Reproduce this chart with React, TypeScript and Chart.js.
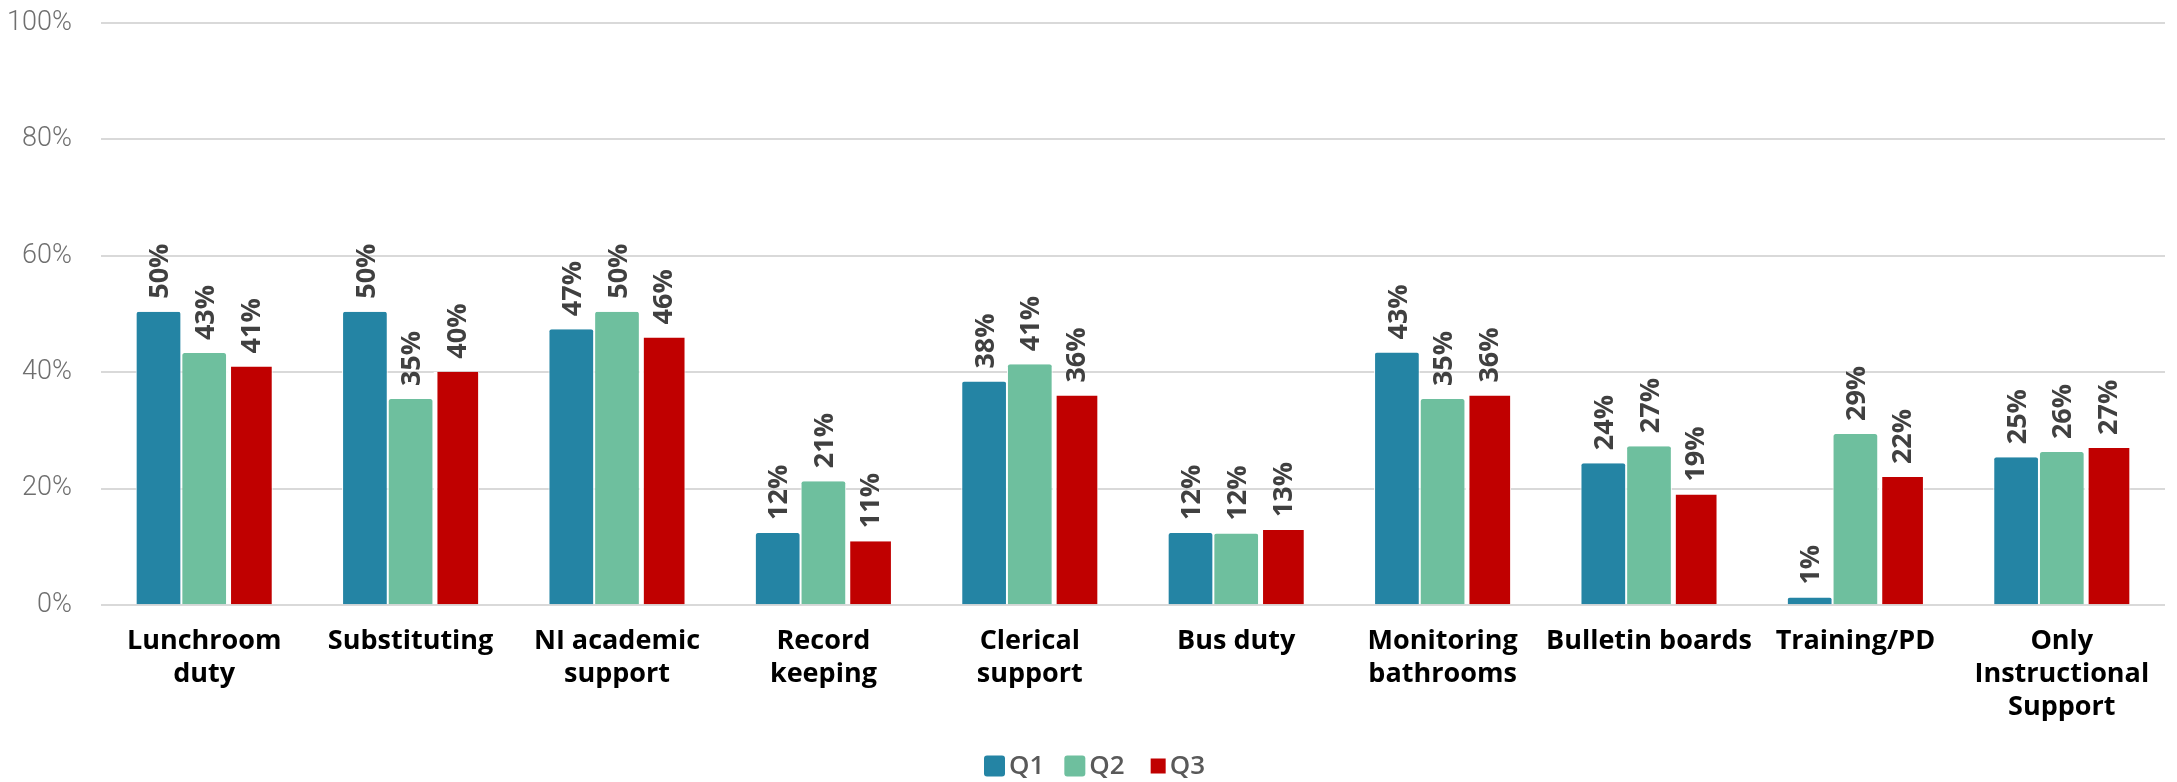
import React, { useEffect, useRef } from "react";
import { Chart, registerables } from "chart.js";

Chart.register(...registerables);

const categories: (string | string[])[] = [
  ["Lunchroom", "duty"],
  "Substituting",
  ["NI academic", "support"],
  ["Record", "keeping"],
  ["Clerical", "support"],
  "Bus duty",
  ["Monitoring", "bathrooms"],
  "Bulletin boards",
  "Training/PD",
  ["Only", "Instructional", "Support"],
];

const q1Values = [50.4, 50.4, 47.4, 12.4, 38.4, 12.4, 43.4, 24.4, 1.3, 25.4];
const q2Values = [43.3, 35.4, 50.4, 21.3, 41.4, 12.3, 35.4, 27.3, 29.4, 26.3];
const q3Values = [41.0, 40.1, 46.0, 11.0, 36.0, 12.9, 36.0, 19.0, 22.0, 27.0];

const seriesNames = ["Q1", "Q2", "Q3"];
const seriesColors = ["#2484A4", "#6EBF9E", "#C00000"];
const yTicks = [0, 20, 40, 60, 80, 100];

const SANS = "'Open Sans', Lato, sans-serif";

const rotatedLabels = {
  id: "rotatedLabels",
  afterDatasetsDraw(chart: any) {
    const ctx = chart.ctx;
    ctx.save();
    ctx.font = `bold 27px ${SANS}`;
    ctx.fillStyle = "#404040";
    ctx.textAlign = "left";
    ctx.textBaseline = "middle";
    chart.data.datasets.forEach((ds: any, di: number) => {
      const meta = chart.getDatasetMeta(di);
      meta.data.forEach((bar: any, i: number) => {
        const v = ds.data[i];
        const label = Math.round(v) + "%";
        ctx.save();
        ctx.translate(bar.x + 2, bar.y - 13);
        ctx.rotate(-Math.PI / 2);
        ctx.fillText(label, 0, 0);
        ctx.restore();
      });
    });
    ctx.restore();
  },
};

const customLegend = {
  id: "customLegend",
  afterDraw(chart: any) {
    const ctx = chart.ctx;
    ctx.save();
    ctx.font = `600 26px ${SANS}`;
    ctx.textBaseline = "middle";
    ctx.textAlign = "left";
    const slot = 21;
    const gapText = 4;
    const gapItem = 20;
    const widths = seriesNames.map((n) => ctx.measureText(n).width);
    const total =
      widths.reduce((a, w) => a + slot + gapText + w, 0) + gapItem * (seriesNames.length - 1);
    let x = chart.width / 2 + 6 - total / 2;
    const yc = 766;
    seriesNames.forEach((n, k) => {
      ctx.fillStyle = seriesColors[k];
      const s = k === 2 ? 15 : 21;
      const off = (slot - s) / 2;
      if (k < 2) {
        ctx.beginPath();
        (ctx as any).roundRect(x + off, yc - s / 2, s, s, 3);
        ctx.fill();
      } else {
        ctx.fillRect(x + off + 3, yc - s / 2, s, s);
      }
      ctx.fillStyle = "#595959";
      ctx.fillText(n, x + slot + gapText, yc + 1);
      x += slot + gapText + widths[k] + gapItem;
    });
    ctx.restore();
  },
};

export default function App() {
  const ref = useRef<HTMLCanvasElement>(null);
  useEffect(() => {
    document.body.style.margin = "0";
    const chart = new Chart(ref.current!, {
      type: "bar",
      data: {
        labels: categories,
        datasets: seriesNames.map((name, k) => ({
          label: name,
          data: [q1Values, q2Values, q3Values][k],
          backgroundColor: seriesColors[k],
          borderColor: "#ffffff",
          borderWidth: k < 2 ? { left: 1, right: 1, top: 0, bottom: 0 } : { left: 4, right: 1, top: 0, bottom: 0 },
          borderSkipped: "bottom",
          borderRadius: k < 2 ? 3 : 0,
          barPercentage: 1,
          categoryPercentage: 0.664,
        })),
      },
      options: {
        animation: false,
        responsive: true,
        maintainAspectRatio: false,
        layout: { padding: { left: 0, right: 12, top: 23, bottom: 46 } },
        plugins: {
          legend: { display: false },
          tooltip: { enabled: false },
        },
        scales: {
          x: {
            grid: { display: false },
            border: { display: false },
            ticks: {
              font: { family: SANS, size: 27, weight: "bold", lineHeight: 1.22 },
              color: "#000000",
              maxRotation: 0,
              autoSkip: false,
              padding: 12,
            },
          },
          y: {
            min: 0,
            max: 100,
            afterFit: (axis: any) => {
              axis.width = 101;
              axis.paddingTop = 0;
              axis.paddingBottom = 0;
            },
            afterBuildTicks: (axis: any) => {
              axis.ticks = yTicks.map((v) => ({ value: v }));
            },
            grid: { color: "#D9D9D9", lineWidth: 2, drawTicks: false },
            border: { display: false },
            ticks: {
              font: { family: "Roboto, sans-serif", size: 27, weight: "300" },
              color: "#6f6f6f",
              padding: 29,
              callback: (v: any) => v + "%",
            },
          },
        },
      },
      plugins: [rotatedLabels, customLegend],
    });
    return () => chart.destroy();
  }, []);
  return (
    <div style={{ position: "fixed", left: 0, top: 0, width: "2177px", height: "782px" }}>
      <canvas ref={ref} />
    </div>
  );
}
